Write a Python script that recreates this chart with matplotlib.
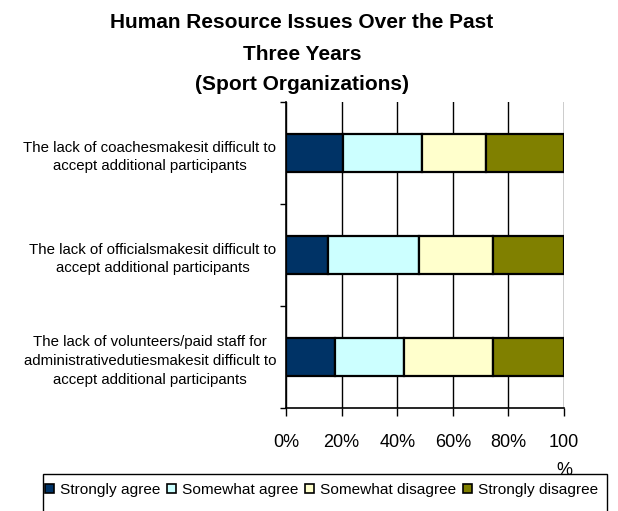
import matplotlib
matplotlib.use("Agg")
import matplotlib.pyplot as plt
import numpy as np
from matplotlib.patches import Rectangle

# data (percent of respondents)
issues = [
    "The lack of coachesmakesit difficult to\naccept additional participants",
    "The lack of officialsmakesit difficult to\naccept additional participants",
    "The lack of volunteers/paid staff for\nadministrativedutiesmakesit difficult to\naccept additional participants",
]
responses = ["Strongly agree", "Somewhat agree", "Somewhat disagree", "Strongly disagree"]
strongly_agree = [20.5, 15.0, 17.5]
somewhat_agree = [28.5, 33.0, 25.0]
somewhat_disagree = [23.0, 26.5, 32.0]
strongly_disagree = [28.0, 25.5, 25.5]
colors = ["#003366", "#CCFFFF", "#FFFFCC", "#808000"]
xticks = [0, 20, 40, 60, 80, 100]
xlabels = ["0%", "20%", "40%", "60%", "80%", "100\n%"]

plt.rcParams["font.family"] = ["Liberation Sans", "DejaVu Sans"]

fig = plt.figure(figsize=(6.18, 5.11), dpi=100)
ax = fig.add_axes([286 / 618, 1 - 408 / 511, (564 - 286) / 618, (408 - 102) / 511])

y = np.arange(len(issues))
left = np.zeros(len(issues))
for vals, name, c in zip([strongly_agree, somewhat_agree, somewhat_disagree, strongly_disagree],
                         responses, colors):
    ax.barh(y, vals, left=left, height=0.38, color=c, edgecolor="black",
            linewidth=1.6, label=name, zorder=3)
    left += np.array(vals)

ax.set_xlim(0, 100)
ax.set_ylim(len(issues) - 0.5, -0.5)

ax.set_xticks(xticks)
ax.set_xticklabels(xlabels, fontsize=13, linespacing=1.8)
ax.tick_params(axis="x", direction="out", length=6, width=1, pad=13)
ax.xaxis.grid(True, color="black", linewidth=1, zorder=0)

ax.set_yticks(np.arange(len(issues) + 1) - 0.5)
ax.set_yticklabels([])
ax.set_yticks(y, minor=True)
ax.set_yticklabels(issues, minor=True, fontsize=10.8, ha="right",
                   multialignment="center", linespacing=1.45)
ax.tick_params(axis="y", which="major", direction="out", length=4, width=1)
ax.tick_params(axis="y", which="minor", length=0, pad=7)

for s in ["top", "right"]:
    ax.spines[s].set_visible(False)
for s in ["left", "bottom"]:
    ax.spines[s].set_color("black")
    ax.spines[s].set_linewidth(1.2)

# three-line title, middle line sits at y=54px
fig.text(302 / 618, 1 - 54 / 511,
         "Human Resource Issues Over the Past\nThree Years\n(Sport Organizations)",
         ha="center", va="center", fontsize=15, fontweight="bold", linespacing=1.8)

# legend box, runs off the bottom like in the source
fig.patches.append(Rectangle((43 / 618, -0.05), (607 - 43) / 618, 0.05 + (511 - 474) / 511,
                             transform=fig.transFigure, facecolor="white",
                             edgecolor="black", linewidth=1, zorder=5))
leg = fig.legend(loc="center left", bbox_to_anchor=(45 / 618, 1 - 490 / 511), ncol=4,
                 frameon=False, fontsize=11.1, handlelength=0.6, handleheight=0.6,
                 handletextpad=0.4, columnspacing=0.4, borderaxespad=0, borderpad=0)
leg.set_zorder(6)
for h in leg.legend_handles:
    h.set_linewidth(1.2)

fig.savefig("out.png", dpi=100)
